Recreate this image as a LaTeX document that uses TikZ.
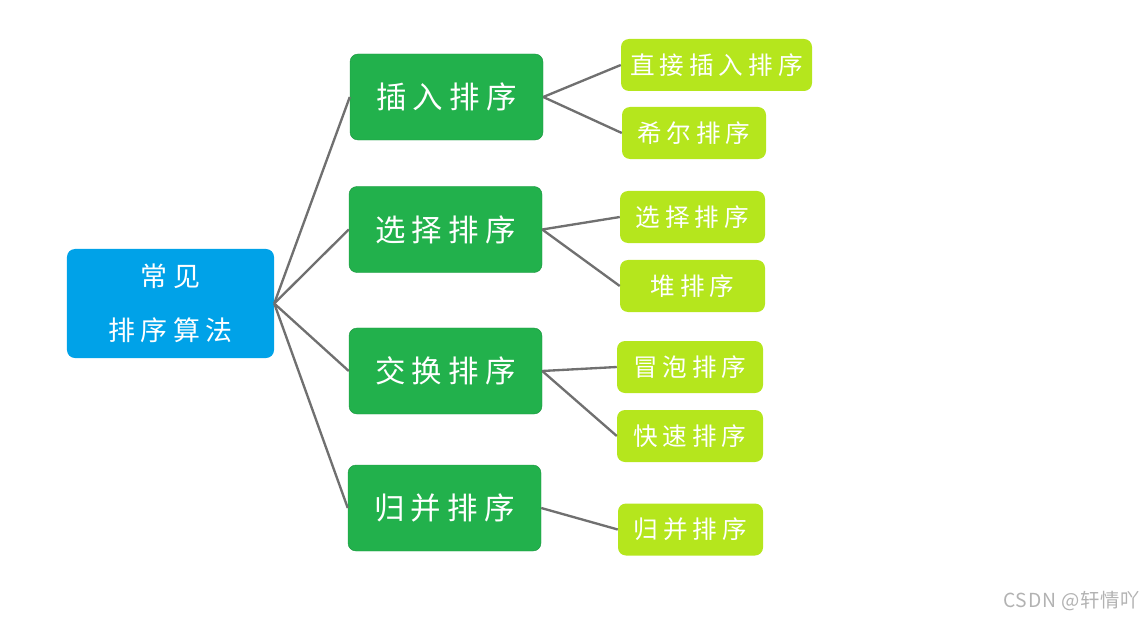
\documentclass[tikz,border=0pt]{standalone}
\usepackage{fontspec}
\newfontfamily\cjk[LetterSpace=20]{Noto Sans CJK SC}
\newfontfamily\cjkmark[LetterSpace=4]{Noto Sans CJK SC}
\usetikzlibrary{positioning}
\definecolor{rootblue}{RGB}{0,162,232}
\definecolor{sortgreen}{RGB}{34,177,76}
\definecolor{leafgreen}{RGB}{181,230,29}
\definecolor{linkgray}{RGB}{112,112,112}

\begin{document}
\begin{tikzpicture}[x=0.03cm,y=-0.03cm,
    rootbox/.style={fill=rootblue,rounded corners=0.24cm,text=white,align=center,
      minimum width=6.21cm,minimum height=3.27cm,font=\cjk\fontsize{23}{46}\selectfont},
    sortbox/.style={fill=sortgreen,draw=sortgreen!85!black,rounded corners=0.24cm,text=white,
      minimum width=5.79cm,minimum height=2.58cm,font=\cjk\fontsize{26}{30}\selectfont},
    leafbox/.style={fill=leafgreen,rounded corners=0.24cm,text=white,
      minimum width=4.35cm,minimum height=1.56cm,font=\cjk\fontsize{21}{25}\selectfont},
    link/.style={draw=linkgray,line width=2pt}]
      \useasboundingbox (0,0) rectangle (1146,620);
      % root
      \node[rootbox] (root) at (170.5,303.5) {常见\\排序算法};
      % the four kinds
      \node[sortbox] (insert) at (446.5,97) {插入排序};
      \node[sortbox] (select) at (445.5,229.5) {选择排序};
      \node[sortbox] (swap) at (445.5,371) {交换排序};
      \node[sortbox] (merge) at (444.5,508) {归并排序};
      % the sorts
      \node[leafbox,minimum width=5.73cm] (direct) at (716.5,65) {直接插入排序};
      \node[leafbox,minimum width=4.32cm] (shell) at (694,133) {希尔排序};
      \node[leafbox] (simple) at (692.5,217) {选择排序};
      \node[leafbox] (heap) at (692.5,286) {堆排序};
      \node[leafbox,minimum width=4.38cm] (bubble) at (690,367) {冒泡排序};
      \node[leafbox,minimum width=4.38cm] (quick) at (690,436) {快速排序};
      \node[leafbox] (mergeall) at (690.5,529.5) {归并排序};
      % links
      \foreach \k in {insert,select,swap,merge}
        \draw[link] (root.east) -- (\k.west);
      \draw[link] (insert.east) -- (direct.west);
      \draw[link] (insert.east) -- (shell.west);
      \draw[link] (select.east) -- (simple.west);
      \draw[link] (select.east) -- (heap.west);
      \draw[link] (swap.east) -- (bubble.west);
      \draw[link] (swap.east) -- (quick.west);
      \draw[link] (merge.east) -- (mergeall.west);
      \node[anchor=east,text=black!30,font=\cjkmark\fontsize{16.5}{18}\selectfont] (mark) at (1144,601) {CSDN @轩情吖};
\end{tikzpicture}
\end{document}
